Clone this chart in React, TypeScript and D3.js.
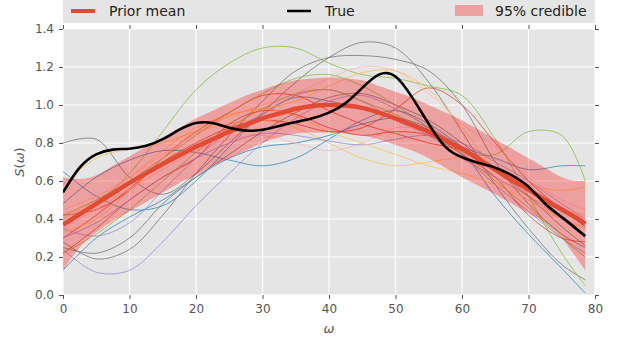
import { useEffect, useRef } from "react";
import * as d3 from "d3";

// fine grid for mean / band / true curve
const omegaFine = [
  0, 2.5, 5, 7.5, 10, 12.5, 15, 17.5, 20, 22.5, 25, 27.5, 30, 32.5, 35, 37.5, 40,
  42.5, 45, 47.5, 50, 52.5, 55, 57.5, 60, 62.5, 65, 67.5, 70, 72.5, 75, 77.5, 78.54,
];
const priorMean = [
  0.37, 0.425, 0.48, 0.535, 0.59, 0.64, 0.69, 0.735, 0.78, 0.82, 0.86, 0.895, 0.93,
  0.955, 0.98, 0.995, 1.0, 0.997, 0.985, 0.96, 0.93, 0.895, 0.86, 0.815, 0.77, 0.715,
  0.66, 0.605, 0.555, 0.5, 0.45, 0.4, 0.375,
];
const bandUpper = [
  0.62, 0.61, 0.63, 0.68, 0.73, 0.78, 0.83, 0.88, 0.93, 0.97, 1.01, 1.05, 1.08, 1.11,
  1.13, 1.14, 1.145, 1.14, 1.13, 1.1, 1.07, 1.04, 1.0, 0.96, 0.92, 0.87, 0.82, 0.77,
  0.72, 0.67, 0.62, 0.6, 0.6,
];
const bandLower = [
  0.13, 0.25, 0.33, 0.39, 0.44, 0.49, 0.54, 0.59, 0.63, 0.68, 0.72, 0.76, 0.8, 0.83,
  0.85, 0.855, 0.855, 0.85, 0.84, 0.82, 0.79, 0.76, 0.72, 0.67, 0.62, 0.575, 0.53,
  0.48, 0.43, 0.38, 0.3, 0.18, 0.13,
];
const trueCurve = [
  0.54, 0.67, 0.74, 0.765, 0.77, 0.785, 0.82, 0.87, 0.905, 0.905, 0.88, 0.865, 0.87,
  0.89, 0.91, 0.93, 0.96, 1.01, 1.09, 1.16, 1.15, 1.04, 0.9, 0.78, 0.725, 0.695, 0.67,
  0.63, 0.57, 0.48, 0.41, 0.34, 0.31,
];

// coarse grid for the prior samples
const omegaCoarse = [0, 5, 10, 15, 20, 25, 30, 35, 40, 45, 50, 55, 60, 65, 70, 75, 78.54];
const sampleColors = [
  "#E24A33", "#348ABD", "#988ED5", "#777777", "#FBC15E", "#8EBA42", "#FFB5B8",
  "#E24A33", "#348ABD", "#988ED5", "#777777", "#FBC15E", "#8EBA42", "#FFB5B8",
  "#E24A33", "#348ABD", "#988ED5", "#777777", "#FBC15E", "#8EBA42",
];
const samples: number[][] = [
  [0.30, 0.42, 0.56, 0.70, 0.80, 0.88, 0.92, 0.90, 0.86, 0.88, 0.98, 1.09, 1.00, 0.80, 0.60, 0.45, 0.36],
  [0.65, 0.52, 0.45, 0.47, 0.60, 0.78, 0.95, 1.04, 1.02, 0.98, 0.93, 0.86, 0.75, 0.52, 0.32, 0.14, 0.01],
  [0.24, 0.12, 0.13, 0.28, 0.47, 0.64, 0.80, 0.93, 1.02, 1.05, 0.98, 0.88, 0.74, 0.58, 0.44, 0.30, 0.22],
  [0.80, 0.82, 0.62, 0.53, 0.64, 0.80, 0.96, 1.12, 1.25, 1.33, 1.30, 1.12, 0.86, 0.58, 0.35, 0.16, 0.08],
  [0.58, 0.72, 0.77, 0.80, 0.86, 0.90, 0.92, 0.88, 0.80, 0.72, 0.68, 0.70, 0.72, 0.66, 0.58, 0.55, 0.57],
  [0.38, 0.48, 0.64, 0.86, 1.08, 1.22, 1.30, 1.30, 1.22, 1.16, 1.14, 1.10, 1.05, 0.82, 0.52, 0.22, 0.05],
  [0.45, 0.52, 0.62, 0.74, 0.85, 0.94, 1.00, 1.06, 1.14, 1.20, 1.18, 1.06, 0.90, 0.78, 0.62, 0.50, 0.45],
  [0.42, 0.45, 0.55, 0.72, 0.86, 0.96, 1.05, 1.05, 0.97, 0.90, 0.85, 0.80, 0.76, 0.66, 0.55, 0.45, 0.38],
  [0.13, 0.30, 0.41, 0.50, 0.62, 0.72, 0.78, 0.80, 0.84, 0.90, 0.93, 0.88, 0.78, 0.72, 0.66, 0.68, 0.68],
  [0.35, 0.31, 0.38, 0.55, 0.72, 0.86, 0.95, 1.05, 1.08, 1.02, 0.92, 0.84, 0.72, 0.62, 0.52, 0.40, 0.30],
  [0.28, 0.19, 0.24, 0.42, 0.64, 0.84, 1.02, 1.18, 1.25, 1.26, 1.24, 1.18, 1.00, 0.70, 0.48, 0.32, 0.25],
  [0.40, 0.50, 0.62, 0.76, 0.88, 0.95, 0.98, 1.02, 1.10, 1.17, 1.18, 1.08, 0.88, 0.66, 0.52, 0.45, 0.42],
  [0.42, 0.50, 0.60, 0.72, 0.84, 0.96, 1.06, 1.14, 1.16, 1.10, 1.00, 0.88, 0.76, 0.74, 0.86, 0.84, 0.60],
  [0.35, 0.45, 0.56, 0.66, 0.76, 0.82, 0.84, 0.80, 0.76, 0.80, 0.88, 0.86, 0.76, 0.62, 0.50, 0.40, 0.36],
  [0.22, 0.35, 0.50, 0.62, 0.72, 0.90, 0.97, 0.95, 0.88, 0.84, 0.86, 0.84, 0.74, 0.62, 0.42, 0.30, 0.28],
  [0.48, 0.62, 0.71, 0.76, 0.75, 0.71, 0.68, 0.72, 0.82, 0.92, 0.97, 0.90, 0.78, 0.66, 0.56, 0.46, 0.38],
  [0.30, 0.38, 0.50, 0.62, 0.72, 0.80, 0.85, 0.84, 0.81, 0.79, 0.82, 0.84, 0.80, 0.70, 0.60, 0.48, 0.40],
  [0.25, 0.22, 0.30, 0.48, 0.62, 0.74, 0.86, 0.96, 1.04, 1.06, 1.00, 0.92, 0.80, 0.66, 0.52, 0.36, 0.26],
  [0.33, 0.40, 0.55, 0.72, 0.86, 0.94, 0.98, 0.94, 0.86, 0.80, 0.74, 0.68, 0.64, 0.58, 0.50, 0.40, 0.35],
  [0.22, 0.32, 0.45, 0.60, 0.75, 0.88, 0.98, 1.06, 1.08, 1.02, 0.95, 0.86, 0.74, 0.60, 0.46, 0.30, 0.20],
];

const xTicks = [0, 10, 20, 30, 40, 50, 60, 70, 80];
const yTicks = [0, 0.2, 0.4, 0.6, 0.8, 1.0, 1.2, 1.4];
const legendLabels = ["Prior mean", "True", "95% credible"];

const W = 619;
const H = 341;
const FONT = "'DejaVu Sans', sans-serif";

function PriorChart() {
  const svgRef = useRef<SVGSVGElement>(null);

  useEffect(() => {
    const svg = svgRef.current;
    if (!svg) return;
    const margin = { top: 29, right: 24, bottom: 46, left: 63 };
    const innerWidth = W - margin.left - margin.right;
    const innerHeight = H - margin.top - margin.bottom;

    const root = d3.select(svg);
    root.selectAll("*").remove();

    const x = d3.scaleLinear().domain([0, 80]).range([0, innerWidth]);
    const y = d3.scaleLinear().domain([0, 1.4]).range([innerHeight, 0]);

    // legend box (clipped by the top of the figure)
    const leg = root.append("g");
    leg.append("rect")
      .attr("x", margin.left).attr("y", -6)
      .attr("width", innerWidth).attr("height", 29)
      .attr("fill", "#E5E5E5");
    const legX = [margin.left + 8, margin.left + 224, margin.left + 392];
    leg.append("line")
      .attr("x1", legX[0]).attr("x2", legX[0] + 24).attr("y1", 11).attr("y2", 11)
      .attr("stroke", "#E24A33").attr("stroke-width", 4);
    leg.append("line")
      .attr("x1", legX[1]).attr("x2", legX[1] + 24).attr("y1", 11).attr("y2", 11)
      .attr("stroke", "#000").attr("stroke-width", 2.5);
    leg.append("rect")
      .attr("x", legX[2]).attr("y", 5).attr("width", 28).attr("height", 11)
      .attr("fill", "red").attr("fill-opacity", 0.3);
    leg.selectAll("text.lab")
      .data(legendLabels)
      .join("text")
      .attr("class", "lab")
      .attr("x", (_, i) => legX[i] + (i === 2 ? 40 : 38))
      .attr("y", 16)
      .attr("font-family", FONT)
      .attr("font-size", 14)
      .attr("fill", "#222")
      .text((d) => d);

    const g = root.append("g").attr("transform", `translate(${margin.left},${margin.top})`);

    g.append("rect").attr("width", innerWidth).attr("height", innerHeight).attr("fill", "#E5E5E5");

    g.append("defs").append("clipPath").attr("id", "plotclip")
      .append("rect").attr("width", innerWidth).attr("height", innerHeight);

    // grid
    g.append("g").selectAll("line").data(xTicks).join("line")
      .attr("x1", (d) => x(d)).attr("x2", (d) => x(d))
      .attr("y1", 0).attr("y2", innerHeight)
      .attr("stroke", "#fff").attr("stroke-width", 1.2);
    g.append("g").selectAll("line").data(yTicks).join("line")
      .attr("y1", (d) => y(d)).attr("y2", (d) => y(d))
      .attr("x1", 0).attr("x2", innerWidth)
      .attr("stroke", "#fff").attr("stroke-width", 1.2);

    const data = g.append("g").attr("clip-path", "url(#plotclip)");

    const sampleLine = d3.line<number>()
      .x((_, i) => x(omegaCoarse[i]))
      .y((d) => y(d))
      .curve(d3.curveCatmullRom.alpha(0.5));

    samples.forEach((s, i) => {
      data.append("path")
        .datum(s)
        .attr("fill", "none")
        .attr("stroke", sampleColors[i % sampleColors.length])
        .attr("stroke-opacity", 0.8)
        .attr("stroke-width", 1)
        .attr("d", sampleLine);
    });

    const band = d3.area<number>()
      .x((_, i) => x(omegaFine[i]))
      .y0((_, i) => y(bandLower[i]))
      .y1((_, i) => y(bandUpper[i]))
      .curve(d3.curveMonotoneX);
    data.append("path")
      .datum(omegaFine)
      .attr("fill", "red")
      .attr("fill-opacity", 0.3)
      .attr("d", band);

    const fineLine = d3.line<number>()
      .x((_, i) => x(omegaFine[i]))
      .y((d) => y(d))
      .curve(d3.curveNatural);

    data.append("path").datum(priorMean)
      .attr("fill", "none").attr("stroke", "#E24A33").attr("stroke-width", 4.5)
      .attr("d", fineLine);
    data.append("path").datum(trueCurve)
      .attr("fill", "none").attr("stroke", "#000").attr("stroke-width", 2.6)
      .attr("d", fineLine);

    // axes
    const styleAxis = (sel: d3.Selection<SVGGElement, unknown, null, undefined>) => {
      sel.select(".domain").remove();
      sel.selectAll(".tick line").attr("stroke", "#555");
      sel.selectAll(".tick text")
        .attr("fill", "#555")
        .attr("font-family", FONT)
        .attr("font-size", 12);
    };

    g.append("g")
      .attr("transform", `translate(0,${innerHeight})`)
      .call(d3.axisBottom(x).tickValues(xTicks).tickFormat(d3.format("d")).tickSize(4).tickPadding(5))
      .call(styleAxis);
    g.append("g")
      .call(d3.axisLeft(y).tickValues(yTicks).tickFormat(d3.format(".1f")).tickSize(4).tickPadding(5))
      .call(styleAxis);
    g.append("g")
      .call(d3.axisTop(x).tickValues(xTicks).tickFormat(() => "").tickSize(4))
      .call(styleAxis);
    g.append("g")
      .attr("transform", `translate(${innerWidth},0)`)
      .call(d3.axisRight(y).tickValues(yTicks).tickFormat(() => "").tickSize(4))
      .call(styleAxis);

    // axis labels
    g.append("text")
      .attr("x", innerWidth / 2)
      .attr("y", innerHeight + 38)
      .attr("text-anchor", "middle")
      .attr("font-family", FONT)
      .attr("font-style", "italic")
      .attr("font-size", 13)
      .attr("fill", "#555")
      .text("ω");

    const yl = root.append("text")
      .attr("transform", `translate(24,${margin.top + innerHeight / 2}) rotate(-90)`)
      .attr("text-anchor", "middle")
      .attr("font-family", FONT)
      .attr("font-size", 13)
      .attr("fill", "#555");
    yl.append("tspan").attr("font-style", "italic").text("S");
    yl.append("tspan").text("(");
    yl.append("tspan").attr("font-style", "italic").text("ω");
    yl.append("tspan").text(")");
  }, []);

  return (
    <svg
      ref={svgRef}
      width={W}
      height={H}
      style={{ position: "absolute", left: 0, top: 0, background: "#fff" }}
    />
  );
}

export default function App() {
  return <PriorChart />;
}
